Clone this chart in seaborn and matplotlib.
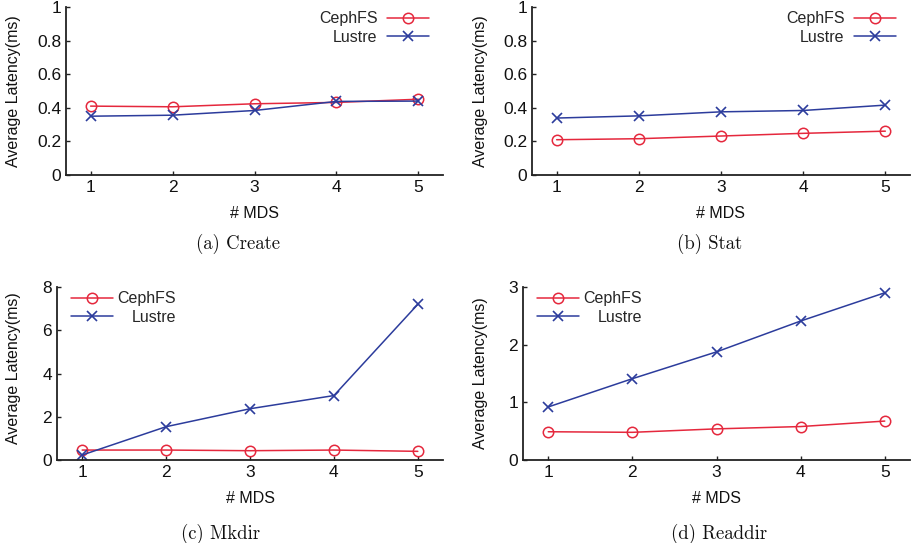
import matplotlib
matplotlib.use("Agg")
import matplotlib.pyplot as plt
import seaborn as sns
import pandas as pd

# Number of metadata servers
mds = [1, 2, 3, 4, 5]

# Average latency (ms) per operation
create_ceph = [0.41, 0.406, 0.424, 0.432, 0.451]
create_lustre = [0.350, 0.356, 0.384, 0.438, 0.440]

stat_ceph = [0.210, 0.216, 0.232, 0.248, 0.261]
stat_lustre = [0.339, 0.352, 0.376, 0.384, 0.416]

mkdir_ceph = [0.46, 0.46, 0.43, 0.46, 0.40]
mkdir_lustre = [0.23, 1.54, 2.37, 2.98, 7.20]

readdir_ceph = [0.49, 0.48, 0.54, 0.58, 0.675]
readdir_lustre = [0.92, 1.41, 1.875, 2.41, 2.90]

series_names = ["CephFS", "Lustre"]
captions = ["(a) Create", "(b) Stat", "(c) Mkdir", "(d) Readdir"]
y_limits = [(0, 1), (0, 1), (0, 8), (0, 3)]
y_ticks = [[0, 0.2, 0.4, 0.6, 0.8, 1], [0, 0.2, 0.4, 0.6, 0.8, 1],
           [0, 2, 4, 6, 8], [0, 1, 2, 3]]
y_ticklabels = [["0", "0.2", "0.4", "0.6", "0.8", "1"],
                ["0", "0.2", "0.4", "0.6", "0.8", "1"],
                ["0", "2", "4", "6", "8"], ["0", "1", "2", "3"]]

panels = [
    (create_ceph, create_lustre),
    (stat_ceph, stat_lustre),
    (mkdir_ceph, mkdir_lustre),
    (readdir_ceph, readdir_lustre),
]

RED = "#e5283d"
BLUE = "#2c3c9c"

sns.set_style("ticks")
plt.rcParams["font.family"] = ["Liberation Sans", "DejaVu Sans"]

W, H = 914, 543
fig = plt.figure(figsize=(W / 100, H / 100), dpi=100)

# axes boxes in pixels: left, top, right, bottom
boxes = [(66, 7, 443, 175), (532, 7, 910, 175),
         (57, 287, 443, 460), (523, 287, 910, 460)]
caption_xy = [(238, 244), (710, 244), (221, 534), (719, 534)]
ylabel_x = [-0.119, -0.116, -0.093, -0.090]
ylabel_y = [0.5, 0.5, 0.53, 0.5]

legends = []
for i, ((ceph, lustre), box) in enumerate(zip(panels, boxes)):
    l, t, r, b = box
    ax = fig.add_axes([l / W, (H - b) / H, (r - l) / W, (b - t) / H])
    df = pd.DataFrame({"mds": mds * 2,
                       "latency": list(ceph) + list(lustre),
                       "fs": [series_names[0]] * 5 + [series_names[1]] * 5})
    sns.lineplot(data=df[df.fs == "CephFS"], x="mds", y="latency", ax=ax,
                 color=RED, marker="o", markersize=7.5, mfc="none", mec=RED,
                 mew=1.1, lw=1.1, label="CephFS", legend=False)
    sns.lineplot(data=df[df.fs == "Lustre"], x="mds", y="latency", ax=ax,
                 color=BLUE, marker="x", markersize=7.5, mec=BLUE,
                 mew=1.2, lw=1.1, label="Lustre", legend=False)

    ax.set_xlim(0.7, 5.3)
    ax.set_ylim(*y_limits[i])
    ax.set_xticks(mds)
    ax.set_xticklabels([str(m) for m in mds])
    ax.set_yticks(y_ticks[i])
    ax.set_yticklabels(y_ticklabels[i])
    ax.tick_params(direction="in", length=3, width=1, labelsize=12.5,
                   pad=3.5, colors="#222222", labelcolor="#111111")
    for side in ("top", "right"):
        ax.spines[side].set_visible(False)
    for side in ("left", "bottom"):
        ax.spines[side].set_linewidth(1.3)
        ax.spines[side].set_color("#222222")

    ax.set_xlabel("# MDS", fontsize=11.5, labelpad=8, color="#111111")
    ax.set_ylabel("Average Latency(ms)", fontsize=11.5, color="#111111")
    ax.yaxis.set_label_coords(ylabel_x[i], ylabel_y[i])

    if i < 2:
        leg = ax.legend(loc="upper right", bbox_to_anchor=(0.962, 0.975),
                        frameon=False, markerfirst=False, fontsize=11.5,
                        handlelength=2.6, handletextpad=0.6,
                        labelspacing=0.22, borderpad=0, borderaxespad=0)
    else:
        leg = ax.legend(loc="upper left", bbox_to_anchor=(0.037, 0.975),
                        frameon=False, markerfirst=True, fontsize=11.5,
                        handlelength=2.6, handletextpad=0.3,
                        labelspacing=0.22, borderpad=0, borderaxespad=0)
        legends.append(leg)

    cx, cy = caption_xy[i]
    fig.text(cx / W, (H - cy) / H, captions[i], ha="center", va="center",
             fontsize=13.5, family=["cmr10", "DejaVu Serif"], color="#111111")

# right-align the entry texts of the left-hand legends
fig.canvas.draw()
renderer = fig.canvas.get_renderer()
for leg in legends:
    widths = [t.get_window_extent(renderer).width for t in leg.get_texts()]
    wmax = max(widths)
    column = leg._legend_handle_box.get_children()[0]
    for item, w in zip(column.get_children(), widths):
        item.sep += (wmax - w) * 72 / fig.dpi

fig.savefig("out.png", dpi=100)
